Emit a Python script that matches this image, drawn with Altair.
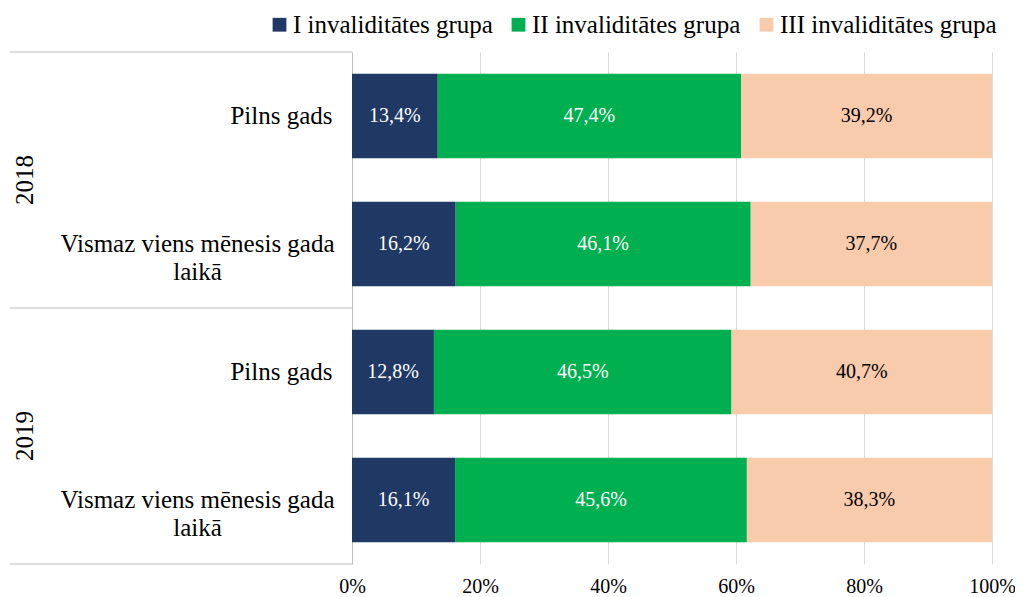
import altair as alt
import pandas as pd

# ---- data ----
groups = ["I invaliditātes grupa", "II invaliditātes grupa", "III invaliditātes grupa"]
colors = ["#203864", "#00B050", "#F8CBAD"]
years = ["2018", "2018", "2019", "2019"]
cat_lines = [["Pilns gads"], ["Vismaz viens mēnesis gada", "laikā"],
             ["Pilns gads"], ["Vismaz viens mēnesis gada", "laikā"]]
vals_I = [13.4, 16.2, 12.8, 16.1]
vals_II = [47.4, 46.1, 46.5, 45.6]
vals_III = [39.2, 37.7, 40.7, 38.3]
x_ticks = [0, 20, 40, 60, 80, 100]

FONT = "'Times New Roman', 'Liberation Serif', Times, serif"

keys = [f"{y}|{'~'.join(c)}" for y, c in zip(years, cat_lines)]
series = [vals_I, vals_II, vals_III]

rows = []
for i, k in enumerate(keys):
    start = 0.0
    for g, vals in zip(groups, series):
        v = vals[i]
        rows.append({"key": k, "group": g, "value": v, "start": start,
                     "end": start + v, "mid": start + v / 2,
                     "label": f"{v:.1f}".replace(".", ",") + "%"})
        start += v
df = pd.DataFrame(rows)

# year labels: placed at the boundary between the two rows of a year
year_df = pd.DataFrame({"year": ["2018", "2019"], "key": [keys[0], keys[2]]})
# separator lines
sep_top_df = pd.DataFrame({"key": [keys[0], keys[2]]})
sep_bot_df = pd.DataFrame({"key": [keys[3]]})

y_scale = alt.Scale(domain=keys, paddingInner=0, paddingOuter=0)
y_axis = alt.Axis(
    title=None, ticks=False, domain=True, domainColor="#bfbfbf", domainWidth=1,
    labelExpr="split(split(datum.value, '|')[1], '~')",
    labelFont=FONT, labelFontSize=25, labelColor="black", labelLimit=400,
    labelAlign="center", labelBaseline="middle", labelLineHeight=28,
    labelPadding={"condition": {"test": "indexof(datum.value, 'Vismaz') >= 0", "value": 155},
                  "value": 71},
    grid=False,
)
x_scale = alt.Scale(domain=[0, 100], nice=False)
x_axis = alt.Axis(
    title=None, values=x_ticks, labelExpr="datum.value + '%'",
    labelFont=FONT, labelFontSize=20, labelColor="black", labelPadding=12,
    labelFlush=False,
    ticks=False, domain=False, grid=True, gridColor="#d9d9d9", gridWidth=1,
)

bars = alt.Chart(df).mark_bar(height=alt.RelativeBandSize(band=0.66)).encode(
    y=alt.Y("key:N", scale=y_scale, axis=y_axis),
    x=alt.X("start:Q", scale=x_scale, axis=x_axis),
    x2="end:Q",
    color=alt.Color("group:N", scale=alt.Scale(domain=groups, range=colors),
                    legend=alt.Legend(
                        title=None, orient="none", direction="horizontal",
                        legendX=-85, legendY=-40, symbolType="square",
                        symbolSize=190, symbolStrokeWidth=0, labelLimit=400,
                        labelFont=FONT, labelFontSize=25, labelColor="black",
                        labelOffset=1, columnPadding=13)),
)

texts = alt.Chart(df).mark_text(font=FONT, fontSize=20, align="center",
                                baseline="middle").encode(
    y=alt.Y("key:N", scale=y_scale, axis=y_axis),
    x=alt.X("mid:Q", scale=x_scale, axis=x_axis),
    text="label:N",
    color=alt.condition(alt.datum.group == groups[2], alt.value("black"), alt.value("white")),
)

year_text = alt.Chart(year_df).mark_text(font=FONT, fontSize=25, angle=270,
                                         align="center", baseline="middle").encode(
    y=alt.Y("key:N", scale=y_scale, axis=y_axis, bandPosition=1),
    x=alt.value(-327),
    text="year:N",
    color=alt.value("black"),
)

sep_top = alt.Chart(sep_top_df).mark_rule(color="#bfbfbf", strokeWidth=1).encode(
    y=alt.Y("key:N", scale=y_scale, axis=y_axis, bandPosition=0),
    x=alt.value(-342), x2=alt.value(0),
)
sep_bot = alt.Chart(sep_bot_df).mark_rule(color="#bfbfbf", strokeWidth=1).encode(
    y=alt.Y("key:N", scale=y_scale, axis=y_axis, bandPosition=1),
    x=alt.value(-342), x2=alt.value(0),
)

chart = alt.layer(bars, texts, year_text, sep_top, sep_bot).properties(
    width=640, height=512,
    autosize=alt.AutoSizeParams(type="none"),
    padding={"left": 344, "top": 44, "right": 23, "bottom": 33},
    background="white",
).configure_view(stroke=None)

chart.save("out.html", embed_options={"renderer": "svg", "actions": False})
